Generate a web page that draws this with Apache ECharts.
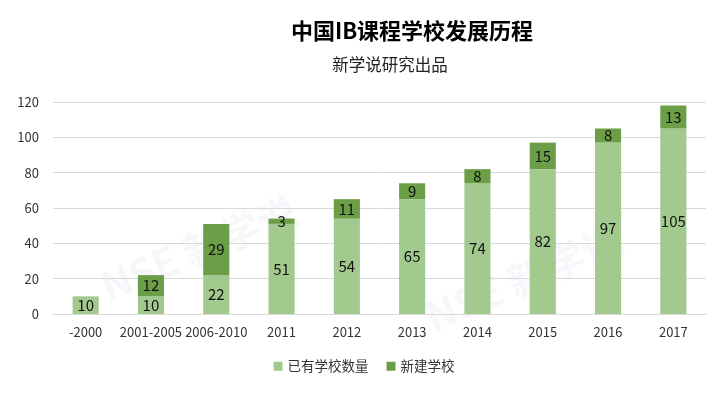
<!DOCTYPE html>
<html>
<head>
<meta charset="utf-8">
<script src="https://cdn.jsdelivr.net/npm/echarts@6/dist/echarts.min.js"></script>
<style>
  html, body { margin: 0; padding: 0; background: #fff; }
  #chart { width: 728px; height: 398px; }
</style>
</head>
<body>
<div id="chart"></div>
<script>
// data
const categories = ["-2000", "2001-2005", "2006-2010", "2011", "2012", "2013", "2014", "2015", "2016", "2017"];
const existingSchools = [10, 10, 22, 51, 54, 65, 74, 82, 97, 105];
const newSchools = [null, 12, 29, 3, 11, 9, 8, 15, 8, 13];

const chart = echarts.init(document.getElementById("chart"));
const font = "'Noto Sans CJK SC', 'DejaVu Sans', sans-serif";

const labelStyle = {
  show: true,
  position: "inside",
  color: "#111",
  fontSize: 15,
  fontFamily: font
};

chart.setOption({
  backgroundColor: "#fff",
  animation: false,
  title: [{
    text: "中国IB课程学校发展历程",
    left: 407,
    top: 15,
    textAlign: "center",
    textStyle: { fontSize: 22, fontWeight: "bold", color: "#000", fontFamily: font }
  }, {
    text: "新学说研究出品",
    left: 385,
    top: 51,
    textAlign: "center",
    textStyle: { fontSize: 16.5, fontWeight: "normal", color: "#222", fontFamily: font }
  }],
  legend: {
    bottom: 20,
    left: "center",
    itemWidth: 9,
    itemHeight: 9,
    itemGap: 18,
    icon: "rect",
    textStyle: { fontSize: 13.5, color: "#333", fontFamily: font },
    data: ["已有学校数量", "新建学校"]
  },
  grid: { left: 53, right: 22, top: 102, bottom: 84 },
  xAxis: {
    type: "category",
    data: categories,
    axisTick: { show: false },
    axisLine: { lineStyle: { color: "#d9d9d9" } },
    axisLabel: { color: "#333", fontSize: 13, interval: 0, margin: 12, fontFamily: font }
  },
  yAxis: {
    type: "value",
    min: 0,
    max: 120,
    interval: 20,
    axisLine: { show: false },
    axisTick: { show: false },
    splitLine: { lineStyle: { color: "#d9d9d9" } },
    axisLabel: { color: "#333", fontSize: 13, margin: 14, fontFamily: font }
  },
  // faint watermark like the original
  graphic: [{
    type: "text",
    left: 95, top: 190,
    rotation: Math.PI / 8,
    style: { text: "NSE 新学说", fontSize: 40, fontWeight: "bold", fill: "rgba(200,210,225,0.18)", fontFamily: font }
  }, {
    type: "text",
    left: 420, top: 220,
    rotation: Math.PI / 8,
    style: { text: "NSE 新学说", fontSize: 40, fontWeight: "bold", fill: "rgba(200,210,225,0.18)", fontFamily: font }
  }],
  series: [{
    name: "已有学校数量",
    type: "bar",
    stack: "total",
    barWidth: "40%",
    data: existingSchools,
    itemStyle: { color: "#a2c98e" },
    label: labelStyle
  }, {
    name: "新建学校",
    type: "bar",
    stack: "total",
    barWidth: "40%",
    data: newSchools,
    itemStyle: { color: "#6b9e46" },
    label: labelStyle
  }]
});
</script>
</body>
</html>
